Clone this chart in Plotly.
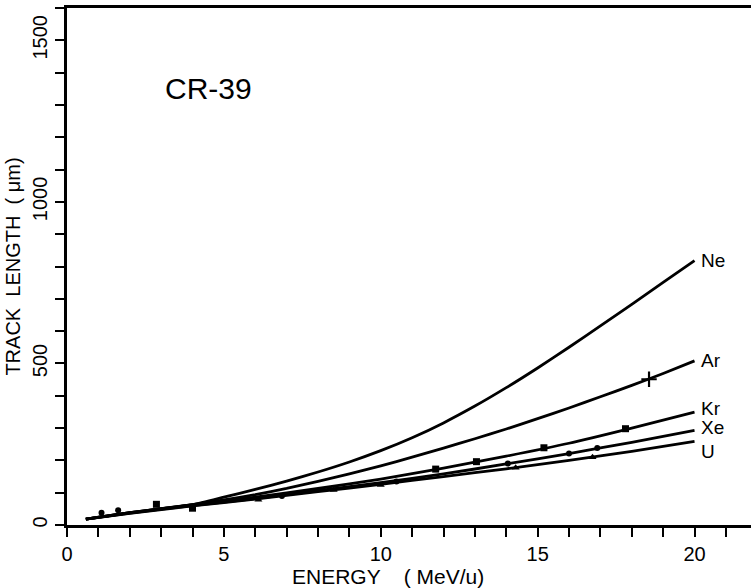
import plotly.graph_objects as go

# ---- data ----
energy_ne = [0.6, 2, 4, 5, 6, 7, 8, 9, 10, 11, 12, 13, 14, 15, 16, 17, 18, 19, 20]
length_ne = [18, 38, 63, 86, 110, 136, 164, 195, 230, 270, 316, 368, 425, 486, 550, 616, 683, 751, 818]

energy_ar = [0.6, 2, 4, 5, 6, 7, 8, 9, 10, 11, 12, 13, 14, 15, 16, 17, 18, 19, 20]
length_ar = [18, 38, 63, 78, 94, 113, 135, 158, 183, 210, 238, 267, 297, 329, 362, 397, 432, 469, 508]

energy_kr = [0.6, 2, 4, 6, 8, 10, 12, 14, 16, 18, 20]
length_kr = [18, 38, 62, 86, 113, 142, 176, 213, 253, 300, 349]

energy_xe = [0.6, 2, 4, 6, 8, 10, 12, 14, 16, 18, 20]
length_xe = [18, 37, 60, 82, 106, 131, 158, 189, 221, 256, 293]

energy_u = [0.6, 2, 4, 6, 8, 10, 12, 14, 16, 18, 20]
length_u = [18, 36, 59, 80, 103, 126, 150, 174, 200, 228, 259]

# measured points
pts_ar_x = [18.55]
pts_ar_y = [451]
pts_kr_x = [2.85, 4.0, 11.75, 13.05, 15.2, 17.8]
pts_kr_y = [64, 52, 173, 196, 239, 298]
pts_xe_x = [1.1, 1.63, 6.85, 10.5, 14.05, 16.0, 16.9]
pts_xe_y = [38, 46, 90, 135, 190, 221, 238]
pts_u_x = [6.1, 8.5, 10.0, 14.3, 16.75]
pts_u_y = [78, 108, 124, 177, 210]

labels = ["Ne", "Ar", "Kr", "Xe", "U"]
label_y = [818, 508, 361, 301, 227]

FONT = "Liberation Sans"

fig = go.Figure()

for ex, ly in [(energy_ne, length_ne), (energy_ar, length_ar), (energy_kr, length_kr),
               (energy_xe, length_xe), (energy_u, length_u)]:
    fig.add_trace(go.Scatter(x=ex, y=ly, mode="lines",
                             line=dict(color="black", width=2.8, shape="spline", smoothing=0.6),
                             showlegend=False, hoverinfo="skip"))

fig.add_trace(go.Scatter(x=pts_ar_x, y=pts_ar_y, mode="markers",
                         marker=dict(symbol="cross-thin", size=11, color="black",
                                     line=dict(color="black", width=2.2)), showlegend=False))
fig.add_trace(go.Scatter(x=pts_kr_x, y=pts_kr_y, mode="markers",
                         marker=dict(symbol="square", size=7, color="black"), showlegend=False))
fig.add_trace(go.Scatter(x=pts_xe_x, y=pts_xe_y, mode="markers",
                         marker=dict(symbol="circle", size=6, color="black"), showlegend=False))
fig.add_trace(go.Scatter(x=pts_u_x, y=pts_u_y, mode="markers",
                         marker=dict(symbol="triangle-up", size=7, color="black"), showlegend=False))

for lab, yv in zip(labels, label_y):
    fig.add_annotation(x=20, y=yv, text=lab, showarrow=False, xanchor="left", yanchor="middle",
                       xshift=4, font=dict(family=FONT, size=19, color="black"))

fig.add_annotation(x=3.05, y=1352, text="CR-39", showarrow=False, xanchor="left", yanchor="middle",
                   font=dict(family=FONT, size=30, color="black"))

# x-axis title (placed slightly left of centre, as in the original)
fig.add_annotation(x=0.469, y=-0.1, xref="paper", yref="paper", text="ENERGY    ( MeV/u)",
                   showarrow=False, xanchor="center", yanchor="middle",
                   font=dict(family=FONT, size=21, color="black"))

fig.update_layout(
    width=751, height=588,
    margin=dict(l=67, r=0, t=8, b=63),
    paper_bgcolor="white", plot_bgcolor="white",
    font=dict(family=FONT, size=20, color="black"),
    xaxis=dict(
        range=[0, 21.8], dtick=5, tick0=0,
        showgrid=False, zeroline=False,
        showline=True, linecolor="black", linewidth=2.5, mirror=True,
        ticks="outside", ticklen=9, tickwidth=2, tickcolor="black",
        minor=dict(dtick=1, ticks="outside", ticklen=9, tickwidth=2, tickcolor="black", showgrid=False),
        tickfont=dict(family=FONT, size=20),
    ),
    yaxis=dict(
        range=[0, 1600], dtick=500, tick0=0,
        showgrid=False, zeroline=False,
        showline=True, linecolor="black", linewidth=2.5,
        ticks="outside", ticklen=9, tickwidth=2, tickcolor="black",
        minor=dict(dtick=100, ticks="outside", ticklen=9, tickwidth=2, tickcolor="black", showgrid=False),
        tickangle=-90,
        tickfont=dict(family=FONT, size=20),
        title=dict(text="TRACK  LENGTH  ( μm)", font=dict(family=FONT, size=20), standoff=4),
    ),
)

fig.write_html("out.html")
